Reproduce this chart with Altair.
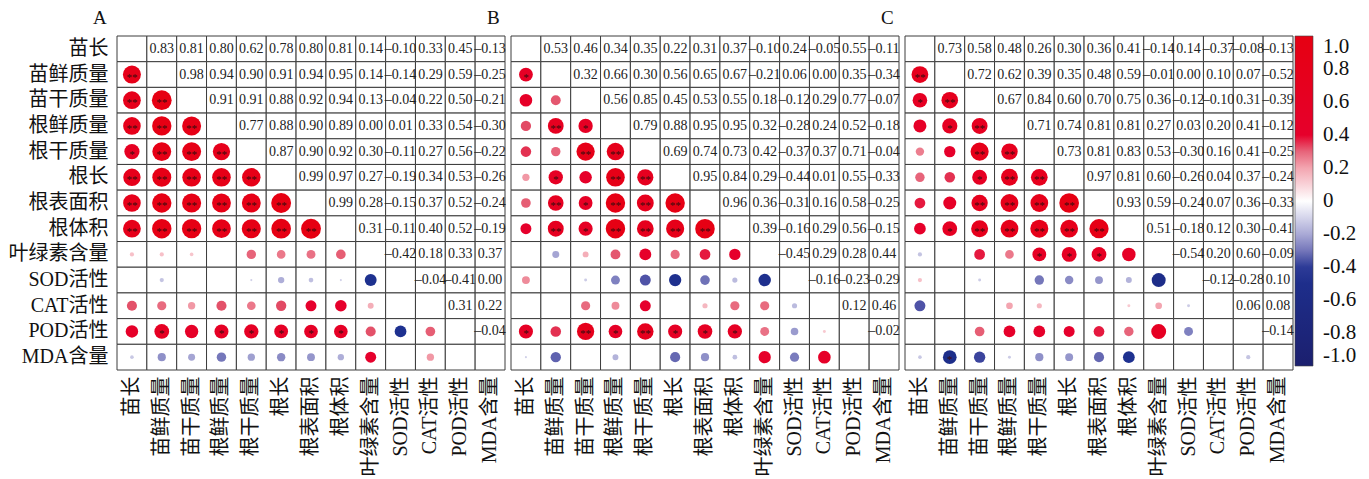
import altair as alt
import pandas as pd

labels = ["苗长", "苗鲜质量", "苗干质量", "根鲜质量", "根干质量", "根长", "根表面积",
          "根体积", "叶绿素含量", "SOD活性", "CAT活性", "POD活性", "MDA含量"]

# upper-triangle correlation coefficients (row i, columns i+1..12)
A_upper = [
    [0.83, 0.81, 0.80, 0.62, 0.78, 0.80, 0.81, 0.14, -0.10, 0.33, 0.45, -0.13],
    [0.98, 0.94, 0.90, 0.91, 0.94, 0.95, 0.14, -0.14, 0.29, 0.59, -0.25],
    [0.91, 0.91, 0.88, 0.92, 0.94, 0.13, -0.04, 0.22, 0.50, -0.21],
    [0.77, 0.88, 0.90, 0.89, 0.00, 0.01, 0.33, 0.54, -0.30],
    [0.87, 0.90, 0.92, 0.30, -0.11, 0.27, 0.56, -0.22],
    [0.99, 0.97, 0.27, -0.19, 0.34, 0.53, -0.26],
    [0.99, 0.28, -0.15, 0.37, 0.52, -0.24],
    [0.31, -0.11, 0.40, 0.52, -0.19],
    [-0.42, 0.18, 0.33, 0.37],
    [-0.04, -0.41, 0.00],
    [0.31, 0.22],
    [-0.04],
]
B_upper = [
    [0.53, 0.46, 0.34, 0.35, 0.22, 0.31, 0.37, -0.10, 0.24, -0.05, 0.55, -0.11],
    [0.32, 0.66, 0.30, 0.56, 0.65, 0.67, -0.21, 0.06, 0.00, 0.35, -0.34],
    [0.56, 0.85, 0.45, 0.53, 0.55, 0.18, -0.12, 0.29, 0.77, -0.07],
    [0.79, 0.88, 0.95, 0.95, 0.32, -0.28, 0.24, 0.52, -0.18],
    [0.69, 0.74, 0.73, 0.42, -0.37, 0.37, 0.71, -0.04],
    [0.95, 0.84, 0.29, -0.44, 0.01, 0.55, -0.33],
    [0.96, 0.36, -0.31, 0.16, 0.58, -0.25],
    [0.39, -0.16, 0.29, 0.56, -0.15],
    [-0.45, 0.29, 0.28, 0.44],
    [-0.16, -0.23, -0.29],
    [0.12, 0.46],
    [-0.02],
]
C_upper = [
    [0.73, 0.58, 0.48, 0.26, 0.30, 0.36, 0.41, -0.14, 0.14, -0.37, -0.08, -0.13],
    [0.72, 0.62, 0.39, 0.35, 0.48, 0.59, -0.01, 0.00, 0.10, 0.07, -0.52],
    [0.67, 0.84, 0.60, 0.70, 0.75, 0.36, -0.12, -0.10, 0.31, -0.39],
    [0.71, 0.74, 0.81, 0.81, 0.27, 0.03, 0.20, 0.41, -0.12],
    [0.73, 0.81, 0.83, 0.53, -0.30, 0.16, 0.41, -0.25],
    [0.97, 0.81, 0.60, -0.26, 0.04, 0.37, -0.24],
    [0.93, 0.59, -0.24, 0.07, 0.36, -0.33],
    [0.51, -0.18, 0.12, 0.30, -0.41],
    [-0.54, 0.20, 0.60, -0.09],
    [-0.12, -0.28, 0.10],
    [0.06, 0.08],
    [-0.14],
]

# significance marks in the lower triangle (row j, columns 0..j-1)
A_sig = [
    ["**"],
    ["**", "**"],
    ["**", "**", "**"],
    ["*", "**", "**", "**"],
    ["**", "**", "**", "**", "**"],
    ["**", "**", "**", "**", "**", "**"],
    ["**", "**", "**", "**", "**", "**", "**"],
    ["", "", "", "", "", "", "", ""],
    ["", "", "", "", "", "", "", "", ""],
    ["", "", "", "", "", "", "", "", "", ""],
    ["", "*", "", "*", "*", "*", "*", "*", "", "", ""],
    ["", "", "", "", "", "", "", "", "", "", "", ""],
]
B_sig = [
    ["*"],
    ["", ""],
    ["", "**", "*"],
    ["", "", "**", "**"],
    ["", "*", "", "**", "**"],
    ["", "**", "*", "**", "**", "**"],
    ["", "**", "*", "**", "**", "**", "**"],
    ["", "", "", "", "", "", "", ""],
    ["", "", "", "", "", "", "", "", ""],
    ["", "", "", "", "", "", "", "", "", ""],
    ["*", "", "**", "*", "**", "*", "*", "*", "", "", ""],
    ["", "", "", "", "", "", "", "", "", "", "", ""],
]
C_sig = [
    ["**"],
    ["*", "**"],
    ["", "*", "**"],
    ["", "", "**", "**"],
    ["", "", "*", "**", "**"],
    ["", "", "**", "**", "**", "**"],
    ["", "*", "**", "**", "**", "**", "**"],
    ["", "", "", "", "*", "*", "*", ""],
    ["", "", "", "", "", "", "", "", ""],
    ["", "", "", "", "", "", "", "", "", ""],
    ["", "", "", "", "", "", "", "", "", "", ""],
    ["", "*", "", "", "", "", "", "", "", "", "", ""],
]

panel_titles = ["A", "B", "C"]
legend_values = [1.0, 0.8, 0.6, 0.4, 0.2, 0.0, -0.2, -0.4, -0.6, -0.8, -1.0]

FONT = "Liberation Serif, Noto Sans CJK SC"
W, H = 388, 334

grid_df = pd.DataFrame([{"row": r, "col": c} for r in labels for c in labels])


def build_df(upper, sig):
    recs = []
    n = len(labels)
    for i in range(n - 1):
        for j in range(i + 1, n):
            r = upper[i][j - i - 1]
            recs.append({"row": labels[i], "col": labels[j], "kind": "up", "r": r, "sig": ""})
            recs.append({"row": labels[j], "col": labels[i], "kind": "low", "r": r,
                         "sig": sig[j - 1][i]})
    return pd.DataFrame(recs)


color_scale = alt.Scale(
    domain=[-1.0, -0.41, -0.38, -0.2, 0.0, 0.2, 0.34, 0.37, 1.0],
    range=["#1b1f6e", "#1e3190", "#4a4ea4", "#aaaad6", "#ffffff",
           "#f3a5b0", "#e24a64", "#e6002c", "#e60012"],
    interpolate="rgb",
)

legend = alt.Legend(
    title=None, values=legend_values, gradientLength=330, gradientThickness=18,
    labelFontSize=21, labelFont=FONT, labelColor="#111", offset=1, labelOffset=10,
    gradientStrokeColor="#444", gradientStrokeWidth=0.6, orient="right",
    direction="vertical",
    labelExpr="datum.value == 0 ? '0' : (datum.value < 0 ? '-' : '') + format(abs(datum.value), '.1f')",
)


def panel(upper, sig, title, first):
    df = build_df(upper, sig)
    xs = alt.Scale(type="band", paddingInner=0, paddingOuter=0)
    ys = alt.Scale(type="band", paddingInner=0, paddingOuter=0)
    xax = alt.Axis(labelAngle=270, labelFontSize=20, labelFont=FONT, ticks=False,
                   domain=False, labelPadding=6, labelLimit=300, title=None,
                   labelColor="#111")
    yax = (alt.Axis(labelFontSize=20, labelFont=FONT, ticks=False, domain=False,
                    labelPadding=9, labelLimit=300, title=None, labelColor="#111")
           if first else None)
    X = alt.X("col:N", sort=labels, scale=xs, axis=xax)
    Y = alt.Y("row:N", sort=labels, scale=ys, axis=yax)

    rect = alt.Chart(grid_df).mark_rect(fill="white", stroke="#3c3c3c",
                                        strokeWidth=1).encode(x=X, y=Y)
    base = alt.Chart(df)
    circles = base.transform_filter("datum.kind == 'low'").transform_calculate(
        absr="abs(datum.r)").mark_circle(opacity=1, strokeWidth=0).encode(
        x=X, y=Y,
        color=alt.Color("r:Q", scale=color_scale, legend=legend),
        size=alt.Size("absr:Q", scale=alt.Scale(domain=[0.1, 1.0], range=[0, 400],
                                                 clamp=True), legend=None),
    )
    stars = base.transform_filter("datum.kind == 'low' && datum.sig != ''").mark_text(
        fontSize=11, font=FONT, color="#3a0c0c", dy=3).encode(x=X, y=Y, text="sig:N")
    nums = base.transform_filter("datum.kind == 'up'").transform_calculate(
        lab="(datum.r < 0 ? '–' : '') + format(abs(datum.r), '.2f')").mark_text(
        fontSize=14, font=FONT, color="#222").encode(x=X, y=Y, text="lab:N")
    return alt.layer(rect, circles, stars, nums).properties(
        width=W, height=H,
        title=alt.TitleParams(text=title, anchor="start", frame="group", dx=-24,
                              fontSize=19, font=FONT, fontWeight="normal",
                              offset=8, color="#111"),
    )


pA = panel(A_upper, A_sig, panel_titles[0], True)
pB = panel(B_upper, B_sig, panel_titles[1], False)
pC = panel(C_upper, C_sig, panel_titles[2], False)

chart = alt.hconcat(pA, pB, pC, spacing=6, bounds="flush").resolve_scale(
    color="shared", size="shared").configure_view(stroke=None).properties(
    padding={"left": 0, "top": 0, "right": 0, "bottom": 0})

chart.save("out.html", embed_options={"renderer": "svg", "actions": False})
